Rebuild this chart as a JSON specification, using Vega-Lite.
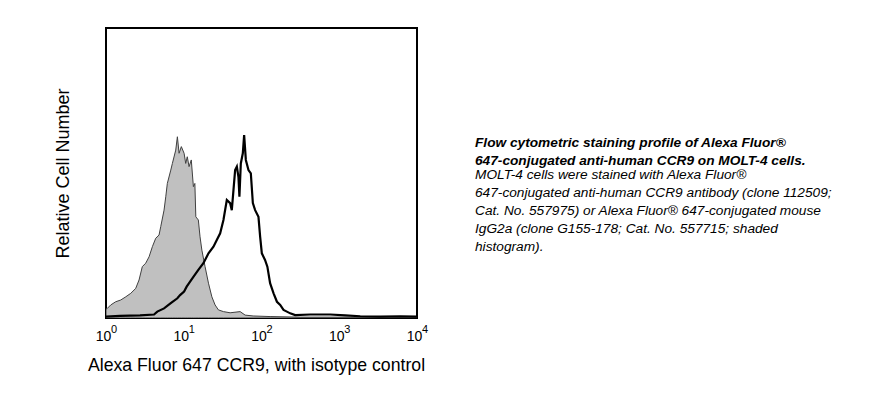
{
  "$schema": "https://vega.github.io/schema/vega-lite/v6.json",
  "autosize": {"type": "none"},
  "width": 311,
  "height": 290,
  "padding": {"left": 106, "top": 28, "right": 472, "bottom": 81},
  "background": "white",
  "config": {
    "view": {"stroke": "black", "strokeWidth": 2},
    "font": "Liberation Sans"
  },
  "title": {
    "text": ["Flow cytometric staining profile of Alexa Fluor®", "647-conjugated anti-human CCR9 on MOLT-4 cells."],
    "subtitle": ["MOLT-4 cells were stained with Alexa Fluor®", "647-conjugated anti-human CCR9 antibody (clone 112509;", "Cat. No. 557975) or Alexa Fluor® 647-conjugated mouse", "IgG2a (clone G155-178; Cat. No. 557715; shaded", "histogram)."],
    "orient": "top",
    "anchor": "start",
    "frame": "group",
    "dx": 369,
    "dy": 230,
    "font": "Liberation Sans",
    "fontSize": 13.7,
    "fontWeight": "bold",
    "fontStyle": "italic",
    "lineHeight": 18,
    "color": "black",
    "subtitleFont": "Liberation Sans",
    "subtitleFontSize": 13.7,
    "subtitleFontStyle": "italic",
    "subtitleFontWeight": "normal",
    "subtitleLineHeight": 18,
    "subtitleColor": "black",
    "subtitlePadding": 1
  },
  "datasets": {
    "iso": [
      {"fl": 1.0, "count": 3.1}, {"fl": 1.039, "count": 3.3}, {"fl": 1.15, "count": 4.5}, {"fl": 1.333, "count": 5.6},
      {"fl": 1.546, "count": 6.2}, {"fl": 1.794, "count": 7.3}, {"fl": 2.08, "count": 8.5}, {"fl": 2.41, "count": 10.2},
      {"fl": 2.66, "count": 13.1}, {"fl": 2.93, "count": 17.7}, {"fl": 3.24, "count": 18.9}, {"fl": 3.58, "count": 21.1},
      {"fl": 3.95, "count": 24.6}, {"fl": 4.36, "count": 27.5}, {"fl": 4.81, "count": 28.6}, {"fl": 5.06, "count": 31.5},
      {"fl": 5.58, "count": 37.2}, {"fl": 5.87, "count": 41.8}, {"fl": 6.15, "count": 46.4}, {"fl": 6.81, "count": 51.0},
      {"fl": 7.14, "count": 53.3}, {"fl": 7.89, "count": 57.9}, {"fl": 8.28, "count": 62.5}, {"fl": 8.71, "count": 56.8},
      {"fl": 9.31, "count": 59.1}, {"fl": 10.1, "count": 56.8}, {"fl": 10.6, "count": 53.3}, {"fl": 11.1, "count": 55.6},
      {"fl": 11.7, "count": 52.2}, {"fl": 12.5, "count": 54.5}, {"fl": 13.3, "count": 45.3}, {"fl": 13.9, "count": 46.4},
      {"fl": 14.3, "count": 34.9}, {"fl": 15.4, "count": 33.8}, {"fl": 16.2, "count": 28.0}, {"fl": 17.1, "count": 23.4},
      {"fl": 18.8, "count": 17.7}, {"fl": 20.8, "count": 12.0}, {"fl": 23.0, "count": 7.3}, {"fl": 25.3, "count": 4.5},
      {"fl": 27.9, "count": 2.8}, {"fl": 32.4, "count": 2.2}, {"fl": 39.5, "count": 1.8}, {"fl": 53.1, "count": 2.2},
      {"fl": 61.6, "count": 1.0}, {"fl": 78.1, "count": 0.7}, {"fl": 129, "count": 0.5}, {"fl": 315, "count": 0.3},
      {"fl": 1383, "count": 0.3}, {"fl": 10000, "count": 0.2}
    ],
    "ccr9": [
      {"fl": 1.0, "count": 0.5}, {"fl": 1.51, "count": 0.7}, {"fl": 2.74, "count": 0.9}, {"fl": 4.15, "count": 1.2},
      {"fl": 4.57, "count": 2.2}, {"fl": 5.58, "count": 3.3}, {"fl": 6.81, "count": 5.1}, {"fl": 8.28, "count": 6.8},
      {"fl": 8.97, "count": 7.9}, {"fl": 10.1, "count": 9.1}, {"fl": 10.9, "count": 10.8}, {"fl": 11.7, "count": 12.0},
      {"fl": 13.3, "count": 14.2}, {"fl": 15.4, "count": 16.6}, {"fl": 17.9, "count": 18.9}, {"fl": 20.8, "count": 22.3},
      {"fl": 24.1, "count": 24.6}, {"fl": 26.6, "count": 26.9}, {"fl": 29.4, "count": 29.2}, {"fl": 32.4, "count": 33.8},
      {"fl": 35.8, "count": 40.7}, {"fl": 39.5, "count": 39.6}, {"fl": 41.5, "count": 37.2}, {"fl": 43.6, "count": 44.1},
      {"fl": 45.8, "count": 51.0}, {"fl": 48.2, "count": 52.2}, {"fl": 50.5, "count": 48.7}, {"fl": 52.0, "count": 41.8},
      {"fl": 54.2, "count": 53.3}, {"fl": 57.5, "count": 56.8}, {"fl": 59.8, "count": 63.1}, {"fl": 62.9, "count": 54.5},
      {"fl": 68.0, "count": 51.0}, {"fl": 72.9, "count": 49.9}, {"fl": 77.4, "count": 39.6}, {"fl": 82.8, "count": 37.2},
      {"fl": 91.4, "count": 34.9}, {"fl": 96.1, "count": 28.0}, {"fl": 101, "count": 22.3}, {"fl": 111, "count": 20.0},
      {"fl": 119, "count": 17.7}, {"fl": 129, "count": 12.0}, {"fl": 143, "count": 8.5}, {"fl": 158, "count": 5.6},
      {"fl": 174, "count": 4.5}, {"fl": 192, "count": 2.8}, {"fl": 212, "count": 2.2}, {"fl": 234, "count": 1.6},
      {"fl": 271, "count": 1.0}, {"fl": 424, "count": 1.2}, {"fl": 766, "count": 1.2}, {"fl": 1195, "count": 0.9},
      {"fl": 1862, "count": 0.6}, {"fl": 3373, "count": 0.5}, {"fl": 6109, "count": 0.6}, {"fl": 10000, "count": 0.5}
    ],
    "exps": [
      {"fl": 1, "exp": "0"}, {"fl": 10, "exp": "1"}, {"fl": 100, "exp": "2"}, {"fl": 1000, "exp": "3"}, {"fl": 10000, "exp": "4"}
    ]
  },
  "layer": [
    {
      "data": {"name": "iso"},
      "mark": {"type": "area", "color": "#c0c0c0", "stroke": "#404040", "strokeWidth": 1, "clip": true},
      "encoding": {
        "x": {
          "field": "fl", "type": "quantitative",
          "scale": {"type": "log", "domain": [1, 10000], "nice": false},
          "axis": {
            "title": "Alexa Fluor 647 CCR9, with isotype control",
            "values": [1, 10, 100, 1000, 10000],
            "labelExpr": "'10'",
            "domain": false, "ticks": false, "grid": false,
            "labelFont": "Liberation Sans", "labelFontSize": 14, "labelColor": "black", "labelPadding": 11, "labelOffset": -3,
            "labelAlign": "center", "labelFlush": false, "labelOverlap": false, "labelBound": false,
            "titleFont": "Liberation Sans", "titleFontSize": 17.7, "titleFontWeight": "normal", "titleColor": "black", "titlePadding": 13, "titleX": 150
          }
        },
        "y": {
          "field": "count", "type": "quantitative",
          "scale": {"domain": [0, 100], "nice": false, "zero": true},
          "axis": {
            "title": "Relative Cell Number",
            "labels": false, "ticks": false, "domain": false, "grid": false,
            "titleFont": "Liberation Sans", "titleFontSize": 18, "titleFontWeight": "normal", "titleColor": "black", "titlePadding": 34
          }
        }
      }
    },
    {
      "data": {"name": "ccr9"},
      "mark": {"type": "line", "color": "black", "strokeWidth": 2.2, "clip": true},
      "encoding": {
        "x": {"field": "fl", "type": "quantitative"},
        "y": {"field": "count", "type": "quantitative"}
      }
    },
    {
      "data": {"name": "exps"},
      "mark": {"type": "text", "font": "Liberation Sans", "fontSize": 11, "fill": "black", "align": "center", "baseline": "middle", "dx": 8, "dy": 12},
      "encoding": {
        "x": {"field": "fl", "type": "quantitative"},
        "y": {"datum": 0, "type": "quantitative"},
        "text": {"field": "exp", "type": "nominal"}
      }
    }
  ]
}
